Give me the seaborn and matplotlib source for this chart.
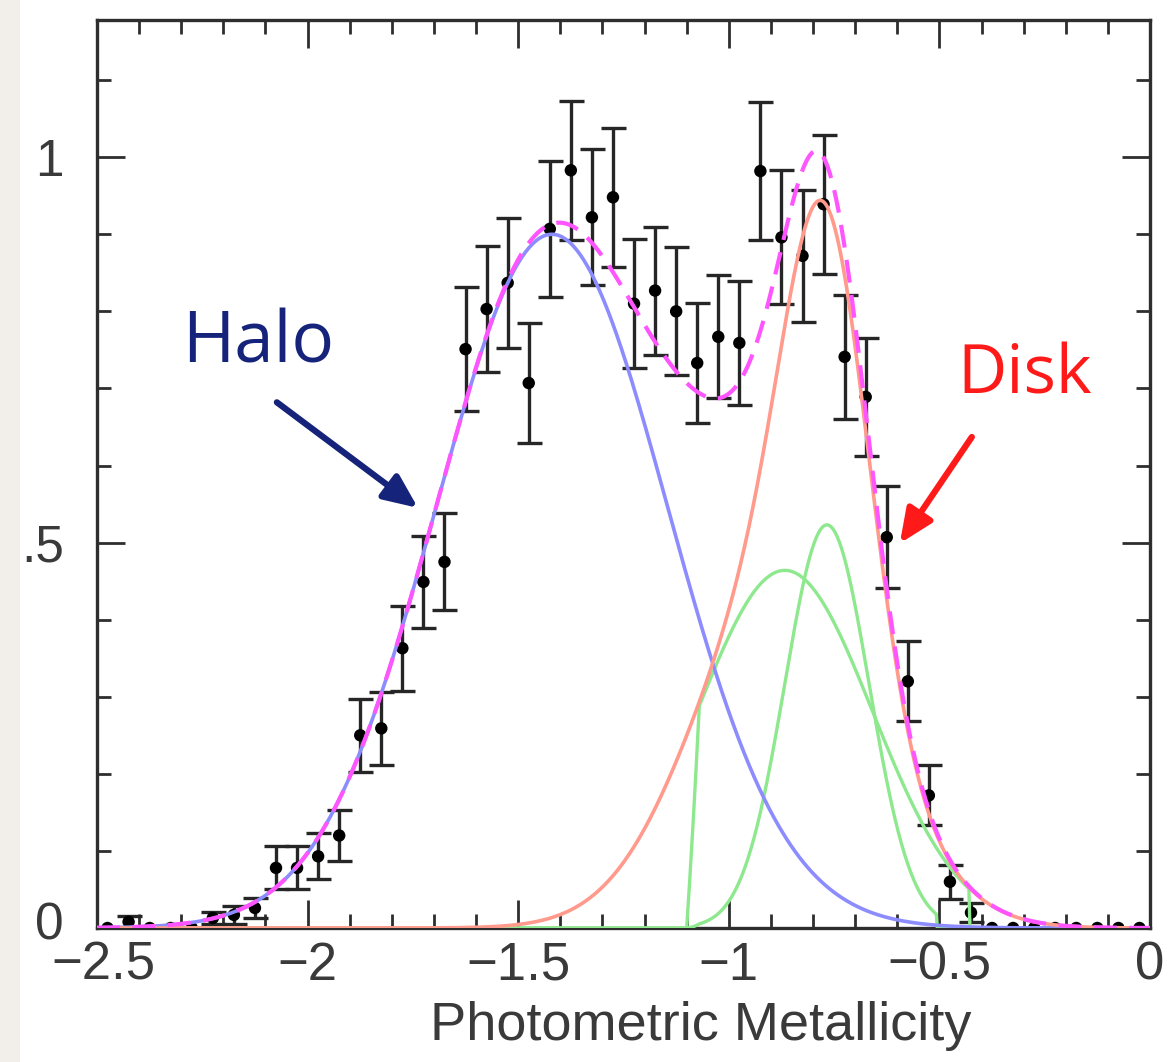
import numpy as np
import pandas as pd
import matplotlib
matplotlib.use("Agg")
import matplotlib.pyplot as plt
import matplotlib.transforms as mtransforms
from matplotlib.ticker import MultipleLocator, FixedLocator, FixedFormatter
import seaborn as sns

# Binned metallicity counts (bin centres, normalised counts, Poisson errors)
feh_bins = [-2.475, -2.425, -2.375, -2.325, -2.275, -2.225, -2.175, -2.125, -2.075, -2.025,
            -1.975, -1.925, -1.875, -1.825, -1.775, -1.725, -1.675, -1.625, -1.575, -1.525,
            -1.475, -1.425, -1.375, -1.325, -1.275, -1.225, -1.175, -1.125, -1.075, -1.025,
            -0.975, -0.925, -0.875, -0.825, -0.775, -0.725, -0.675, -0.625, -0.575, -0.525,
            -0.475, -0.425, -0.375, -0.325, -0.275, -0.225, -0.175, -0.125, -0.075, -0.025]
counts = [0.0, 0.008, 0.0, 0.0, 0.0, 0.013, 0.017, 0.026, 0.078, 0.078,
          0.093, 0.120, 0.250, 0.259, 0.363, 0.449, 0.475, 0.751, 0.803, 0.837,
          0.707, 0.907, 0.983, 0.922, 0.948, 0.810, 0.827, 0.800, 0.733, 0.767,
          0.759, 0.982, 0.896, 0.872, 0.939, 0.741, 0.689, 0.507, 0.320, 0.172,
          0.060, 0.020, 0.0, 0.0, 0.0, 0.0, 0.0, 0.0, 0.0, 0.0]
count_err = [0.0, 0.008, 0.0, 0.0, 0.0, 0.008, 0.012, 0.013, 0.028, 0.028,
             0.030, 0.033, 0.047, 0.047, 0.055, 0.060, 0.063, 0.080, 0.082, 0.084,
             0.078, 0.088, 0.090, 0.088, 0.090, 0.084, 0.083, 0.083, 0.078, 0.080,
             0.080, 0.090, 0.087, 0.086, 0.090, 0.080, 0.076, 0.066, 0.052, 0.039,
             0.022, 0.012, 0.0, 0.0, 0.0, 0.0, 0.0, 0.0, 0.0, 0.0]

# Gaussian model components: (mean, sigma, amplitude)
halo_params = (-1.42, 0.275, 0.90)
disk_broad_params = (-0.867, 0.208, 0.464)
disk_narrow_params = (-0.767, 0.10, 0.523)
# range over which each disk sub-component is drawn
disk_broad_range = (-1.10, -0.43)
disk_narrow_range = (-1.10, -0.505)

x_ticks = [-2.5, -2.0, -1.5, -1.0, -0.5, 0.0]
x_labels = ["\u22122.5", "\u22122", "\u22121.5", "\u22121", "\u22120.5", "0"]
y_ticks = [0.0, 0.5, 1.0]
y_labels = ["0", ".5", "1"]


def gauss(x, p):
    mu, sig, amp = p
    return amp * np.exp(-0.5 * ((x - mu) / sig) ** 2)


def window(x, rng, edge=0.03):
    """Soft-edged window limiting a component to its drawn range."""
    lo, hi = rng
    up = np.clip((x - lo) / edge, 0.0, 1.0)
    return np.where(x <= hi, up, 0.0)


sns.set_theme(style="white")
plt.rcParams["font.family"] = ["Liberation Sans Narrow", "Liberation Sans", "DejaVu Sans"]

fig = plt.figure(figsize=(11.68, 10.62), dpi=100)
fig.patch.set_facecolor("white")
# pale strip along the left edge
fig.patches.append(plt.Rectangle((0, 0), 20 / 1168, 1, transform=fig.transFigure,
                                 facecolor="#f2efea", edgecolor="none", zorder=0))
ax = fig.add_axes([97 / 1168, 1 - 928 / 1062, (1150 - 97) / 1168, (928 - 20) / 1062])

df = pd.DataFrame({"feh": feh_bins, "n": counts, "err": count_err})

# data with error bars
ax.errorbar(df["feh"], df["n"], yerr=df["err"], fmt="none", ecolor="#262626",
            elinewidth=2.4, capsize=9, capthick=2.4, zorder=2)
sns.scatterplot(data=df, x="feh", y="n", ax=ax, color="black", s=80,
                edgecolor="none", zorder=3, legend=False)

# model curves
xg = np.linspace(-2.5, 0.0, 1001)
halo = gauss(xg, halo_params)
g1 = gauss(xg, disk_broad_params)
g2 = gauss(xg, disk_narrow_params)
disk = g1 + g2
total = halo + disk
curves = pd.DataFrame({"x": xg, "halo": halo,
                       "g1": g1 * window(xg, disk_broad_range),
                       "g2": g2 * window(xg, disk_narrow_range),
                       "disk": disk, "total": total})

sns.lineplot(data=curves, x="x", y="g1", ax=ax, color="#8ee88e", lw=2.4, zorder=4)
sns.lineplot(data=curves, x="x", y="g2", ax=ax, color="#8ee88e", lw=2.4, zorder=4)
sns.lineplot(data=curves, x="x", y="halo", ax=ax, color="#8c8cff", lw=2.6, zorder=5)
sns.lineplot(data=curves, x="x", y="disk", ax=ax, color="#ff9a8c", lw=2.6, zorder=5)
sns.lineplot(data=curves, x="x", y="total", ax=ax, color="#ff55ff", lw=3.0, zorder=6,
             linestyle=(0, (5.5, 3)))

ax.set_xlim(-2.5, 0.0)
ax.set_ylim(0.0, 1.178)

# axes frame and ticks
for s in ax.spines.values():
    s.set_visible(True)
    s.set_color("#2e2e2e")
    s.set_linewidth(2.4)
ax.xaxis.set_major_locator(FixedLocator(x_ticks))
ax.xaxis.set_major_formatter(FixedFormatter(x_labels))
ax.xaxis.set_minor_locator(MultipleLocator(0.1))
ax.yaxis.set_major_locator(FixedLocator(y_ticks))
ax.yaxis.set_major_formatter(FixedFormatter(y_labels))
ax.yaxis.set_minor_locator(MultipleLocator(0.1))
ax.tick_params(which="both", direction="in", top=True, right=True, bottom=True, left=True,
               color="#2e2e2e", width=2.0)
ax.tick_params(which="major", length=20)
ax.tick_params(which="minor", length=10)
ax.tick_params(axis="x", which="major", labelsize=38, labelcolor="#3a3a3a", pad=9)
ax.tick_params(axis="y", which="major", labelsize=37, labelcolor="#3a3a3a", pad=24)
ax.set_xlabel("Photometric Metallicity", fontsize=39, color="#3a3a3a", va="top")
ax.xaxis.set_label_coords(0.573, -(1001 - 928) / 908)
ax.set_ylabel("")

# lift the bottom y label a little so it clears the first x label
fig.canvas.draw()
ylabs = ax.get_yticklabels()
ylabs[0].set_transform(ylabs[0].get_transform()
                       + mtransforms.ScaledTranslation(0, 7 / 100, fig.dpi_scale_trans))
xlabs = ax.get_xticklabels()
xlabs[0].set_transform(xlabs[0].get_transform()
                       + mtransforms.ScaledTranslation(6 / 100, 0, fig.dpi_scale_trans))

# component labels and arrows
ax.text(-2.298, 0.734, "Halo", fontsize=51, color="#15237a", family=["Open Sans", "DejaVu Sans"],
        ha="left", va="baseline", zorder=7)
ax.annotate("", xy=(-1.738, 0.545), xytext=(-2.073, 0.682),
            arrowprops=dict(arrowstyle="-|>,head_length=1.7,head_width=0.75",
                            color="#15237a", lw=4.5, shrinkA=0, shrinkB=0), zorder=7)
ax.text(-0.458, 0.694, "Disk", fontsize=49, color="#ff1a1a", family=["Open Sans", "DejaVu Sans"],
        ha="left", va="baseline", zorder=7)
ax.annotate("", xy=(-0.594, 0.499), xytext=(-0.423, 0.637),
            arrowprops=dict(arrowstyle="-|>,head_length=1.7,head_width=0.75",
                            color="#ff1a1a", lw=4.5, shrinkA=0, shrinkB=0), zorder=7)

fig.savefig("out.png", dpi=100, facecolor=fig.get_facecolor())
